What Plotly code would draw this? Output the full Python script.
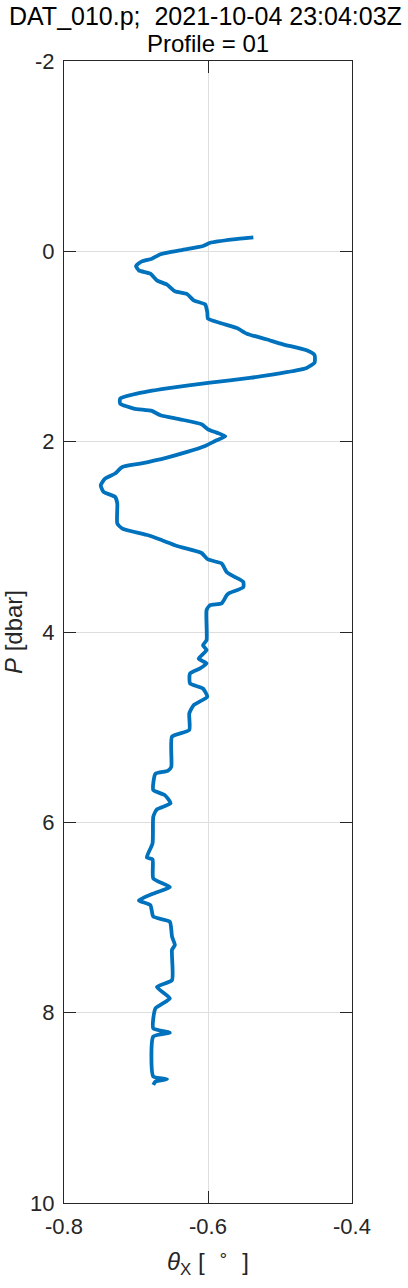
import plotly.graph_objects as go

# Data (theta_X in degrees vs pressure in dbar)
pressure = [-0.147, -0.126, -0.09, -0.056, -0.01, 0.03, 0.077, 0.105, 0.154, 0.2,
            0.235, 0.305, 0.35, 0.42, 0.45, 0.515, 0.557, 0.637, 0.707, 0.753,
            0.806, 0.865, 0.924, 0.977, 1.04, 1.09, 1.17, 1.225, 1.27, 1.33,
            1.38, 1.44, 1.495, 1.547, 1.6, 1.652, 1.677, 1.723, 1.765, 1.817,
            1.87, 1.905, 1.943, 1.985, 2.045, 2.108, 2.167, 2.23, 2.266, 2.335,
            2.388, 2.458, 2.528, 2.58, 2.65, 2.86, 2.913, 2.983, 3.036, 3.096,
            3.17, 3.238, 3.28, 3.37, 3.42, 3.474, 3.53, 3.59, 3.613, 3.70,
            3.718, 3.77, 4.086, 4.14, 4.19, 4.28, 4.33, 4.383, 4.436, 4.54,
            4.594, 4.68, 4.77, 4.856, 5.03, 5.10, 5.417, 5.46, 5.49, 5.66,
            5.714, 5.80, 5.865, 5.94, 6.22, 6.37, 6.39, 6.59, 6.68, 6.74,
            6.82, 6.87, 6.99, 7.045, 7.20, 7.29, 7.34, 7.658, 7.73, 7.85,
            7.955, 8.165, 8.21, 8.25, 8.67, 8.70, 8.725, 8.76]
theta_x = [-0.537, -0.565, -0.597, -0.607, -0.639, -0.666, -0.678, -0.692, -0.700, -0.696,
           -0.680, -0.671, -0.657, -0.646, -0.629, -0.620, -0.604, -0.601, -0.600, -0.583,
           -0.560, -0.546, -0.519, -0.496, -0.463, -0.452, -0.452, -0.463, -0.491, -0.542,
           -0.597, -0.657, -0.699, -0.722, -0.722, -0.703, -0.678, -0.666, -0.639, -0.609,
           -0.600, -0.588, -0.576, -0.588, -0.604, -0.629, -0.657, -0.694, -0.719, -0.729,
           -0.743, -0.749, -0.745, -0.729, -0.726, -0.726, -0.719, -0.683, -0.664, -0.643,
           -0.609, -0.600, -0.581, -0.574, -0.563, -0.551, -0.551, -0.570, -0.574, -0.581,
           -0.597, -0.602, -0.602, -0.607, -0.602, -0.613, -0.602, -0.611, -0.625, -0.625,
           -0.607, -0.601, -0.620, -0.626, -0.626, -0.650, -0.651, -0.656, -0.673, -0.676,
           -0.660, -0.652, -0.671, -0.676, -0.677, -0.685, -0.677, -0.676, -0.653, -0.673,
           -0.696, -0.680, -0.676, -0.653, -0.650, -0.646, -0.650, -0.650, -0.671, -0.653,
           -0.673, -0.676, -0.653, -0.676, -0.676, -0.657, -0.673, -0.676]

x_ticks = [-0.8, -0.6, -0.4]
x_tick_text = ["-0.8", "-0.6", "-0.4"]
y_ticks = [-2, 0, 2, 4, 6, 8, 10]
y_tick_text = ["-2", "0", "2", "4", "6", "8", "10"]

title_line1 = "DAT_010.p;  2021-10-04 23:04:03Z"
title_line2 = "Profile = 01"

FONT = "Liberation Sans, Arial, Helvetica, sans-serif"
AXC = "#262626"
NB = "\u00a0"

fig = go.Figure()
fig.add_trace(go.Scatter(
    x=theta_x, y=pressure, mode="lines",
    line=dict(color="#0072BD", width=3.8, shape="spline", smoothing=0.5),
    showlegend=False, hoverinfo="skip",
))

axis_common = dict(
    showline=True, linecolor=AXC, linewidth=1, mirror="ticks",
    ticks="inside", ticklen=12, tickwidth=1, tickcolor=AXC,
    showgrid=True, gridcolor="#dedede", gridwidth=1,
    zeroline=False, automargin=False,
    tickfont=dict(family=FONT, size=22, color=AXC),
)

fig.update_xaxes(
    range=[-0.8, -0.4], tickmode="array", tickvals=x_ticks, ticktext=x_tick_text,
    ticklabelstandoff=4,
    title=dict(text="<i>θ</i><sub>X</sub> [" + NB * 2 + "<sup>∘</sup>" + NB * 2 + "]",
               font=dict(family=FONT, size=24, color=AXC), standoff=14),
    **axis_common,
)
fig.update_yaxes(
    range=[10, -2], tickmode="array", tickvals=y_ticks, ticktext=y_tick_text,
    ticklabelstandoff=4,
    title=dict(text="<i>P</i> [dbar]",
               font=dict(family=FONT, size=24, color=AXC), standoff=7),
    **axis_common,
)

plot_h = 1288 - 61 - 85
fig.add_annotation(text=title_line1, xref="paper", yref="paper", x=0.49,
                   y=1 + (61 - 16) / plot_h, yanchor="middle", showarrow=False,
                   font=dict(family=FONT, size=25, color="#000000"))
fig.add_annotation(text=title_line2, xref="paper", yref="paper", x=0.5,
                   y=1 + (61 - 44) / plot_h, yanchor="middle", showarrow=False,
                   font=dict(family=FONT, size=24, color="#000000"))

fig.update_layout(
    width=408, height=1288,
    margin=dict(l=63.5, r=56, t=61, b=85),
    paper_bgcolor="white", plot_bgcolor="white",
)

fig.write_html(
    "out.html",
    config={"displayModeBar": False},
    post_script="document.body.style.margin='0';document.body.style.overflow='hidden';",
)
